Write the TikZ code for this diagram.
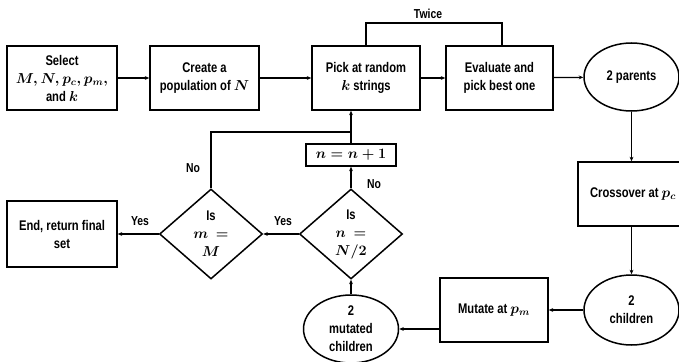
\documentclass[tikz,border=0pt]{standalone}
\usepackage{fontspec}
\setmainfont{Liberation Sans}[FakeStretch=0.8]
\usetikzlibrary{shapes.geometric,arrows.meta}
\begin{document}
\begin{tikzpicture}[x=1pt,y=-1pt,
  every node/.style={font=\fontsize{14}{18}\selectfont\bfseries\mathversion{bold}, align=center, inner sep=1pt},
  box/.style={draw, line width=1.5pt, minimum width=#1, minimum height=64pt},
  box/.default=108pt,
  oval/.style={draw, ellipse, line width=1.5pt, minimum width=95pt, minimum height=#1},
  decide/.style={draw, diamond, line width=1.5pt, minimum width=103pt, minimum height=90pt, inner sep=0pt},
  link/.style={line width=1.2pt, -{Stealth[length=4.5pt,width=3.8pt]}},
  plain/.style={line width=1.2pt},
  lbl/.style={font=\fontsize{13}{14}\selectfont\bfseries}
]
\useasboundingbox (0,0) rectangle (679,361);
\fill[white] (0,0) rectangle (679,361);
\begin{scope}
\clip (0,0) rectangle (679,361);

% top row
\node[box=110pt] (select) at (62,78) {Select\\$M, N, p_c, p_m,$\\and $k$};
\node[box=109pt] (create) at (204.5,78) {Create a\\population of $N$};
\node[box=108pt] (pick) at (366,78) {Pick at random\\$k$ strings};
\node[box=107pt] (eval) at (499.5,78) {Evaluate and\\pick best one};
\node[oval=68pt] (parents) at (631.5,77) {2 parents};

% right column
\node[box=108pt] (cross) at (632,194) {};
\node at (633,194) {Crossover at $p_c$};
\node[oval=70pt] (children) at (631.5,310) {2\\children};

% bottom row
\node[box=108pt] (mutate) at (494,310) {Mutate at $p_m$};
\node[oval=68pt] (mutated) at (351,329) {2\\mutated\\children};
\node[decide] (isn) at (351,234) {Is\\$n\ =$\\$N/2$};
\node[draw, line width=1.5pt, minimum width=90pt, minimum height=22pt] (incr) at (351,155) {$n = n + 1$};
\node[decide] (ism) at (211,234) {Is\\$m\ =$\\$M$};
\node[box=110pt, minimum height=66pt] (finish) at (62,234) {End, return final\\set};

% main flow
\draw[link] (select) -- (create);
\draw[link] (create) -- (pick);
\draw[link] (pick) -- (eval);
\draw[link] (eval) -- (parents);
\draw[link] (parents.south) -- (cross.north -| parents.south);
\draw[link] (cross.south -| children.north) -- (children.north);
\draw[link] (children.west) -- (mutate.east |- children.west);
\draw[link] (mutate.west |- mutated.east) -- (mutated.east);
\draw[link] (mutated.north) -- (isn.south);
\draw[link] (isn.north) -- (incr.south);
\draw[link] (incr.north) -- (incr.north |- pick.south);
\draw[link] (isn.west) -- (ism.east);
\draw[link] (ism.west) -- (finish.east);

% loop back when m differs from M
\coordinate (loopy) at (0,132);
\draw[plain] (ism.north) -- (ism.north |- loopy) -- (incr.north |- loopy);

% selection repeated twice
\coordinate (twicey) at (0,23);
\draw[plain] (pick.north) -- (pick.north |- twicey) -- (502,23) -- (502,46);
\node[lbl] (twice) at (428,14) {Twice};

% decision labels
\node[lbl] (no1) at (193,168) {No};
\node[lbl] (no2) at (374,184) {No};
\node[lbl] (yes1) at (140,221) {Yes};
\node[lbl] (yes2) at (283,221) {Yes};
\end{scope}
\end{tikzpicture}
\end{document}
